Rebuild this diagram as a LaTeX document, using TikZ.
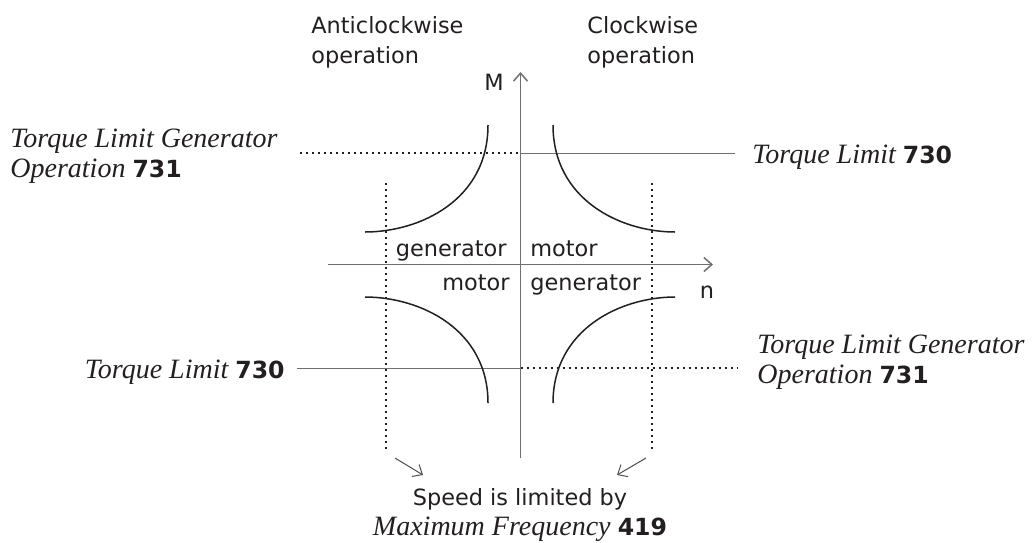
\documentclass[tikz,border=0pt]{standalone}
\usepackage{fontspec}
\setmainfont{Liberation Serif}
\newfontfamily\labelfont{DejaVu Sans}
\usetikzlibrary{arrows.meta, positioning}

\definecolor{axisgray}{HTML}{707070}
\definecolor{inkblack}{HTML}{231F20}

\newcommand{\parno}[1]{{\fontsize{11.8}{15}\labelfont\upshape\bfseries #1}}

\tikzstyle{axis}      = [draw=axisgray, line width=0.75pt, -{Straight Barb[length=4pt,width=7pt]}]
\tikzstyle{limit}     = [draw=axisgray, line width=0.75pt]
\tikzstyle{limitdot}  = [draw=inkblack, line width=1pt, dash pattern=on 1pt off 2pt]
\tikzstyle{curve}     = [draw=inkblack, line width=0.75pt]
\tikzstyle{arrow}     = [draw=inkblack!80, line width=0.5pt, -{Straight Barb[length=4pt,width=7pt]}]
\tikzstyle{sanslabel} = [inner sep=0pt, text=inkblack, font=\fontsize{11.2}{15}\labelfont]
\tikzstyle{itlabel}   = [inner sep=0pt, text=inkblack, font=\fontsize{14}{15}\selectfont\itshape]

\begin{document}
\begin{tikzpicture}[x=0.5pt, y=-0.5pt]

    \useasboundingbox (0,0) rectangle (1032,542);

    % axes
    \coordinate (O)     at (520.5,264.5);
    \coordinate (Mbot)  at (520.5,458);
    \coordinate (Mtop)  at (520.5,72);
    \coordinate (nleft) at (328,264.5);
    \coordinate (nright) at (713,264.5);
    \draw[axis] (Mbot) -- (Mtop);
    \draw[axis] (nleft) -- (nright);

    \node[sanslabel, anchor=base] (M) at (494,90) {M};
    \node[sanslabel, anchor=base] (n) at (707,298) {n};

    % direction labels (base = last line)
    \node[sanslabel, anchor=base west, align=left] (acw) at (311,63) {Anticlockwise\\operation};
    \node[sanslabel, anchor=base west, align=left] (cw)  at (587,63) {Clockwise\\operation};

    % quadrant labels
    \node[sanslabel, anchor=base east] (genTL) at (507,256) {generator};
    \node[sanslabel, anchor=base west] (motTR) at (530,256) {motor};
    \node[sanslabel, anchor=base east] (motBL) at (510,290) {motor};
    \node[sanslabel, anchor=base west] (genBR) at (530,290) {generator};

    % torque limits
    \node[itlabel, anchor=base west, align=left] (tlgL) at (10,177) {Torque Limit Generator\\Operation \parno{731}};
    \node[itlabel, anchor=base west] (tlR) at (752,163) {Torque Limit \parno{730}};
    \node[itlabel, anchor=base east] (tlL) at (285,378) {Torque Limit \parno{730}};
    \node[itlabel, anchor=base west, align=left] (tlgR) at (757,383) {Torque Limit Generator\\Operation \parno{731}};

    \coordinate (topL)  at (300,153.3);
    \coordinate (topM)  at (520.5,153.3);
    \coordinate (topR)  at (735,153.3);
    \coordinate (botL)  at (297,368.3);
    \coordinate (botM)  at (520.5,368.3);
    \coordinate (botR)  at (738,368.3);
    \draw[limitdot] (topL) -- (topM);
    \draw[limit] (topM) -- (topR);
    \draw[limit] (botL) -- (botM);
    \draw[limitdot] (botM) -- (botR);

    % speed limits
    \coordinate (spLtop) at (385.7,183);
    \coordinate (spLbot) at (385.7,452);
    \coordinate (spRtop) at (652.3,183);
    \coordinate (spRbot) at (652.3,452);
    \draw[limitdot] (spLtop) -- (spLbot);
    \draw[limitdot] (spRtop) -- (spRbot);

    \node[sanslabel, anchor=base, align=center] (speed) at (520,535)
        {Speed is limited by\\{\fontsize{14}{15}\rmfamily\itshape Maximum Frequency} \parno{419}};

    \coordinate (arLfrom) at (395,458);
    \coordinate (arLto)   at (423,475);
    \coordinate (arRfrom) at (646,458);
    \coordinate (arRto)   at (617,475);
    \draw[arrow] (arLfrom) -- (arLto);
    \draw[arrow] (arRfrom) -- (arRto);

    % power curves
    \draw[curve] (488,125) .. controls (488,200) and (420,232) .. (365,232);
    \draw[curve] (553,125) .. controls (553,200) and (621,232) .. (675,232);
    \draw[curve] (365,297) .. controls (420,297) and (488,329) .. (488,403);
    \draw[curve] (675,297) .. controls (621,297) and (553,329) .. (553,403);

\end{tikzpicture}
\end{document}
